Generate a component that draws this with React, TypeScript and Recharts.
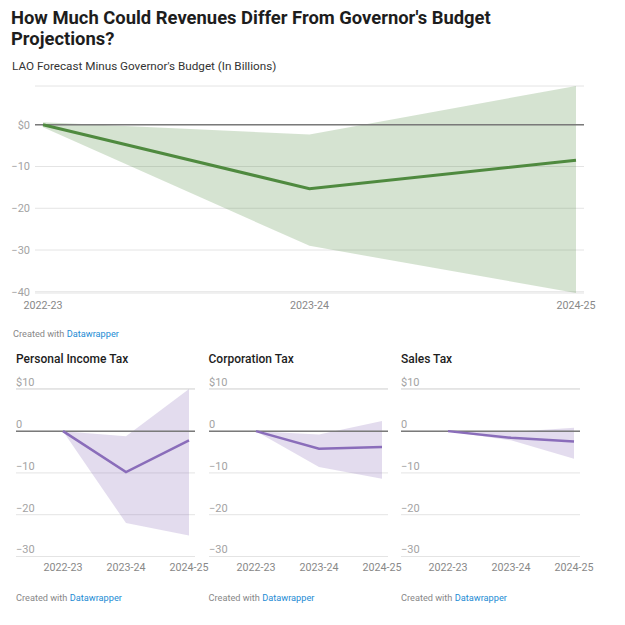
import React from 'react';
import { ComposedChart, Area, Line, XAxis, YAxis, CartesianGrid, ReferenceLine } from 'recharts';

const years = ['2022-23', '2023-24', '2024-25'];

const totalMid = [0, -15.3, -8.5];
const totalLow = [-0.6, -29, -40.3];
const totalHigh = [0.6, -2.3, 9.3];

const pitMid = [0, -9.8, -2.2];
const pitLow = [0, -22, -25];
const pitHigh = [0, -1.2, 10.1];

const corpMid = [0, -4.2, -3.8];
const corpLow = [0, -8.6, -11.4];
const corpHigh = [0, -0.8, 2.4];

const salesMid = [0, -1.6, -2.5];
const salesLow = [0, -2.2, -6.6];
const salesHigh = [0, -0.2, 0.8];

const mainTicks = [0, -10, -20, -30, -40];
const mainTickLabels = ['$0', '\u221210', '\u221220', '\u221230', '\u221240'];
const smallTicks = [10, 0, -10, -20, -30];
const smallTickLabels = ['$10', '0', '\u221210', '\u221220', '\u221230'];

const panelTitles = ['Personal Income Tax', 'Corporation Tax', 'Sales Tax'];

const FONT = 'Roboto, "Noto Sans", sans-serif';
const YW = 16;

function build(mid: number[], low: number[], high: number[]) {
  return years.map((y, i) => ({ year: y, value: mid[i], band: [low[i], high[i]] }));
}

const mainData = build(totalMid, totalLow, totalHigh);
const panels = [
  { title: panelTitles[0], data: build(pitMid, pitLow, pitHigh), left: 16 },
  { title: panelTitles[1], data: build(corpMid, corpLow, corpHigh), left: 208.5 },
  { title: panelTitles[2], data: build(salesMid, salesLow, salesHigh), left: 401 },
];

const Credit = ({ left, top }: { left: number; top: number }) => (
  <div style={{ position: 'absolute', left, top, fontSize: 9.2, lineHeight: '12px', color: '#888', fontFamily: FONT, whiteSpace: 'nowrap' }}>
    Created with <span style={{ color: '#1d8cd4' }}>Datawrapper</span>
  </div>
);

const MainYTick = (props: any) => {
  const idx = mainTicks.indexOf(props.payload.value);
  return (
    <text x={props.x} y={props.y} dy="0.35em" textAnchor="end" fontSize={11} fill="#a3a3a3" fontFamily={FONT}>
      {idx >= 0 ? mainTickLabels[idx] : props.payload.value}
    </text>
  );
};

const SmallYTick = (props: any) => {
  const idx = smallTicks.indexOf(props.payload.value);
  return (
    <text x={YW} y={props.y - 7} dy="0.35em" textAnchor="start" fontSize={11} fill="#a3a3a3" fontFamily={FONT}>
      {idx >= 0 ? smallTickLabels[idx] : props.payload.value}
    </text>
  );
};

export default function App() {
  return (
    <div style={{ position: 'absolute', left: 0, top: 0, width: 625, height: 625, background: '#fff', fontFamily: FONT }}>
      <div style={{ position: 'absolute', left: 11, top: 7, fontSize: 18.4, lineHeight: '21px', fontWeight: 700, color: '#1d1d1d', whiteSpace: 'nowrap' }}>
        How Much Could Revenues Differ From Governor's Budget
        <br />
        Projections?
      </div>
      <div style={{ position: 'absolute', left: 12, top: 58.5, fontSize: 11.7, lineHeight: '14px', color: '#333', whiteSpace: 'nowrap' }}>
        LAO Forecast Minus Governor's Budget (In Billions)
      </div>

      <div style={{ position: 'absolute', left: 0, top: 80 }}>
        <ComposedChart width={610} height={243} data={mainData} margin={{ top: 6, right: 26, bottom: 0, left: 0 }}>
          <CartesianGrid vertical={false} stroke="#e4e4e4" />
          <XAxis
            dataKey="year"
            padding={{ left: 8, right: 8 }}
            axisLine={false}
            tickLine={false}
            tickSize={0}
            tickMargin={8}
            height={30}
            interval={0}
            tick={{ fontSize: 10.7, fill: '#888', fontFamily: FONT }}
          />
          <YAxis
            type="number"
            domain={[-40.3, 9.3]}
            ticks={mainTicks}
            width={35}
            axisLine={false}
            tickLine={false}
            tickSize={0}
            tickMargin={5}
            tick={<MainYTick />}
          />
          <Area dataKey="band" stroke="none" fill="#4f8a3f" fillOpacity={0.24} isAnimationActive={false} type="linear" />
          <ReferenceLine y={0} stroke="#7a7a7a" strokeWidth={1.5} />
          <Line dataKey="value" stroke="#4f8a3f" strokeWidth={3} dot={false} isAnimationActive={false} type="linear" />
        </ComposedChart>
      </div>
      <Credit left={13} top={328} />

      {panels.map((p, i) => (
        <React.Fragment key={i}>
          <div style={{ position: 'absolute', left: p.left, top: 352, fontSize: 12, lineHeight: '15px', fontWeight: 500, color: '#1d1d1d', whiteSpace: 'nowrap' }}>
            {p.title}
          </div>
          <div style={{ position: 'absolute', left: p.left - YW, top: 370 }}>
            <ComposedChart width={200 + YW} height={211.5} data={p.data} margin={{ top: 18.5, right: 21, bottom: 0, left: 0 }}>
              <CartesianGrid vertical={false} stroke="#e4e4e4" />
              <XAxis
                dataKey="year"
                padding={{ left: 47, right: 6 }}
                axisLine={false}
                tickLine={false}
                tickSize={0}
                tickMargin={7}
                height={25}
                interval={0}
                tick={{ fontSize: 10.7, fill: '#888', fontFamily: FONT }}
              />
              <YAxis
                type="number"
                domain={[-30, 10.2]}
                ticks={smallTicks}
                width={YW}
                axisLine={false}
                tickLine={false}
                tickSize={0}
                tick={<SmallYTick />}
              />
              <Area dataKey="band" stroke="none" fill="#8a6dba" fillOpacity={0.24} isAnimationActive={false} type="linear" />
              <ReferenceLine y={0} stroke="#7a7a7a" strokeWidth={1.5} />
              <Line dataKey="value" stroke="#8a6dba" strokeWidth={2.5} dot={false} isAnimationActive={false} type="linear" />
            </ComposedChart>
          </div>
          <Credit left={p.left} top={592} />
        </React.Fragment>
      ))}
    </div>
  );
}
